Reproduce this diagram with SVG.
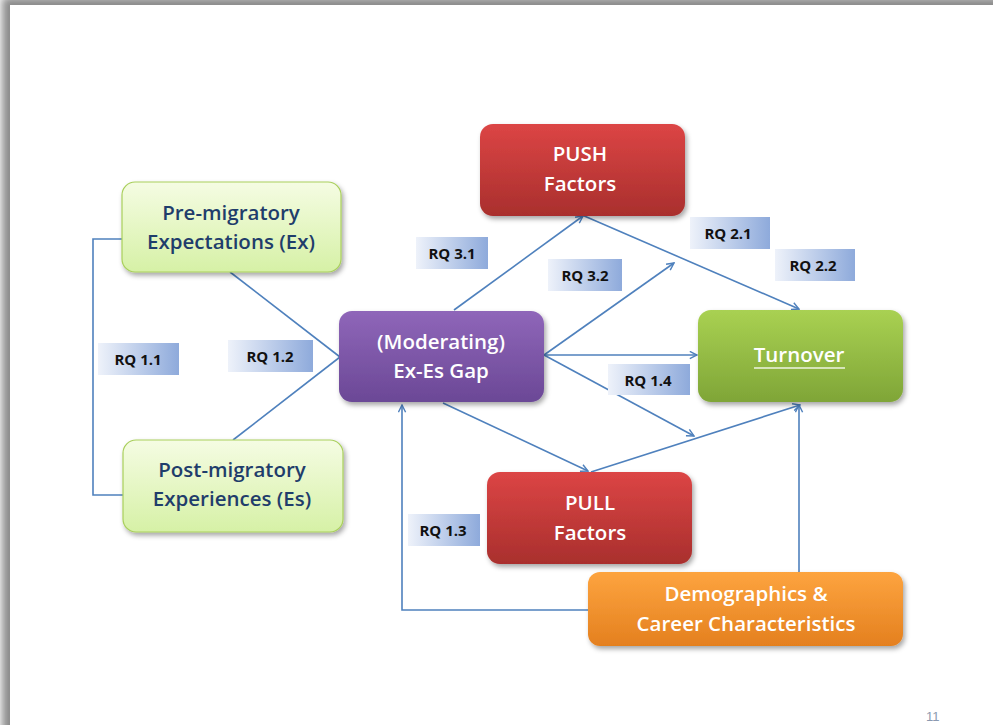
<svg xmlns="http://www.w3.org/2000/svg" width="993" height="725" viewBox="0 0 993 725">
<defs>
  <filter id="slideShadow" x="-5%" y="-5%" width="110%" height="110%">
    <feGaussianBlur stdDeviation="4"/>
  </filter>
  <filter id="boxShadow" x="-10%" y="-10%" width="125%" height="130%">
    <feDropShadow dx="2" dy="3" stdDeviation="2.5" flood-color="#000" flood-opacity="0.35"/>
  </filter>
  <linearGradient id="gLight" x1="0" y1="0" x2="0" y2="1">
    <stop offset="0" stop-color="#f5fce3"/>
    <stop offset="1" stop-color="#d6f1a6"/>
  </linearGradient>
  <linearGradient id="gPurple" x1="0" y1="0" x2="0" y2="1">
    <stop offset="0" stop-color="#8f66b9"/>
    <stop offset="1" stop-color="#6b4896"/>
  </linearGradient>
  <linearGradient id="gRed" x1="0" y1="0" x2="0" y2="1">
    <stop offset="0" stop-color="#dc4545"/>
    <stop offset="1" stop-color="#a92f2d"/>
  </linearGradient>
  <linearGradient id="gGreen" x1="0" y1="0" x2="0" y2="1">
    <stop offset="0" stop-color="#a9d152"/>
    <stop offset="1" stop-color="#7fa537"/>
  </linearGradient>
  <linearGradient id="gOrange" x1="0" y1="0" x2="0" y2="1">
    <stop offset="0" stop-color="#fda43f"/>
    <stop offset="1" stop-color="#e4801f"/>
  </linearGradient>
  <linearGradient id="gRQ" x1="0" y1="0" x2="1" y2="0">
    <stop offset="0" stop-color="#eef2fa"/>
    <stop offset="1" stop-color="#8eaadb"/>
  </linearGradient>
  <marker id="arr" viewBox="0 0 10 10" refX="9" refY="5" markerWidth="9" markerHeight="9" markerUnits="userSpaceOnUse" orient="auto">
    <path d="M1,1 L9,5 L1,9" fill="none" stroke="#4f81bd" stroke-width="1.6"/>
  </marker>
  <style>
    .conn { fill: none; stroke: #4f81bd; stroke-width: 1.6; }
    .arrow { marker-end: url(#arr); }
    .box { filter: url(#boxShadow); }
    .lt { font-family: "Open Sans", "Liberation Sans", sans-serif; font-weight: 600; font-size: 20.5px; fill: #1f3d6b; text-anchor: middle; }
    .wt { font-family: "Open Sans", "Liberation Sans", sans-serif; font-weight: 600; font-size: 20.5px; fill: #ffffff; text-anchor: middle; }
    .rq { font-family: "Open Sans", "Liberation Sans", sans-serif; font-weight: 700; font-size: 15px; fill: #111111; text-anchor: middle; }
    .pg { font-family: "Liberation Sans", sans-serif; font-size: 13px; fill: #8c9ab0; }
  </style>
</defs>

<!-- slide background -->
<rect x="0" y="0" width="993" height="725" fill="#ffffff"/>
<rect x="2" y="-3" width="1100" height="800" fill="#8a8a8a" filter="url(#slideShadow)"/>
<rect x="10" y="5" width="1100" height="800" fill="#ffffff"/>

<!-- connectors -->
<g id="connectors">
  <polyline class="conn" points="122,239 93,239 93,495 123,495"/>
  <line class="conn" x1="230" y1="272" x2="340" y2="357"/>
  <line class="conn" x1="233" y1="440" x2="340" y2="357"/>
  <line class="conn arrow" x1="454" y1="310" x2="583" y2="216"/>
  <line class="conn arrow" x1="582" y1="215" x2="799" y2="309"/>
  <line class="conn arrow" x1="544" y1="355" x2="674" y2="263"/>
  <line class="conn arrow" x1="544" y1="355" x2="697" y2="355"/>
  <line class="conn arrow" x1="544" y1="355" x2="694" y2="436"/>
  <line class="conn arrow" x1="443" y1="403" x2="588" y2="471"/>
  <line class="conn arrow" x1="591" y1="472" x2="800" y2="405"/>
  <line class="conn arrow" x1="799" y1="572" x2="799" y2="405"/>
  <polyline class="conn arrow" points="588,610 402,610 402,405"/>
</g>

<!-- RQ labels -->
<g id="rq11"><rect x="98" y="343" width="81" height="32" fill="url(#gRQ)"/><text class="rq" x="138" y="365">RQ 1.1</text></g>
<g id="rq12"><rect x="228" y="340" width="85" height="32" fill="url(#gRQ)"/><text class="rq" x="270" y="362">RQ 1.2</text></g>
<g id="rq31"><rect x="416" y="237" width="72" height="32" fill="url(#gRQ)"/><text class="rq" x="452" y="259">RQ 3.1</text></g>
<g id="rq32"><rect x="548" y="259" width="74" height="32" fill="url(#gRQ)"/><text class="rq" x="585" y="281">RQ 3.2</text></g>
<g id="rq21"><rect x="690" y="217" width="80" height="32" fill="url(#gRQ)"/><text class="rq" x="728" y="239">RQ 2.1</text></g>
<g id="rq22"><rect x="775" y="249" width="80" height="32" fill="url(#gRQ)"/><text class="rq" x="813" y="271">RQ 2.2</text></g>
<g id="rq14"><rect x="608" y="364" width="82" height="31" fill="url(#gRQ)"/><text class="rq" x="648" y="386">RQ 1.4</text></g>
<g id="rq13"><rect x="408" y="514" width="72" height="32" fill="url(#gRQ)"/><text class="rq" x="443" y="536">RQ 1.3</text></g>

<!-- nodes -->
<g id="pre-migratory">
  <rect class="box" x="122" y="182" width="219" height="90" rx="13" fill="url(#gLight)" stroke="#a9cf5c" stroke-width="1.2"/>
  <text class="lt" x="231" y="220">Pre-migratory</text>
  <text class="lt" x="231" y="249">Expectations (Ex)</text>
</g>
<g id="post-migratory">
  <rect class="box" x="123" y="440" width="220" height="92" rx="13" fill="url(#gLight)" stroke="#a9cf5c" stroke-width="1.2"/>
  <text class="lt" x="232" y="477">Post-migratory</text>
  <text class="lt" x="232" y="506">Experiences (Es)</text>
</g>
<g id="moderating">
  <rect class="box" x="339" y="311" width="205" height="91" rx="13" fill="url(#gPurple)"/>
  <text class="wt" x="441" y="349">(Moderating)</text>
  <text class="wt" x="441" y="378">Ex-Es Gap</text>
</g>
<g id="push">
  <rect class="box" x="480" y="124" width="205" height="92" rx="13" fill="url(#gRed)"/>
  <text class="wt" x="580" y="161">PUSH</text>
  <text class="wt" x="580" y="191">Factors</text>
</g>
<g id="turnover">
  <rect class="box" x="698" y="310" width="205" height="92" rx="13" fill="url(#gGreen)"/>
  <text class="wt" x="799" y="362">Turnover</text>
  <line x1="754" y1="368" x2="845" y2="368" stroke="#ffffff" stroke-width="1.4" opacity="0.85"/>
</g>
<g id="pull">
  <rect class="box" x="487" y="472" width="205" height="92" rx="13" fill="url(#gRed)"/>
  <text class="wt" x="590" y="510">PULL</text>
  <text class="wt" x="590" y="540">Factors</text>
</g>
<g id="demographics">
  <rect class="box" x="588" y="572" width="315" height="74" rx="12" fill="url(#gOrange)"/>
  <text class="wt" x="746" y="601">Demographics &amp;</text>
  <text class="wt" x="746" y="631">Career Characteristics</text>
</g>

<text class="pg" x="926" y="721">11</text>
</svg>
